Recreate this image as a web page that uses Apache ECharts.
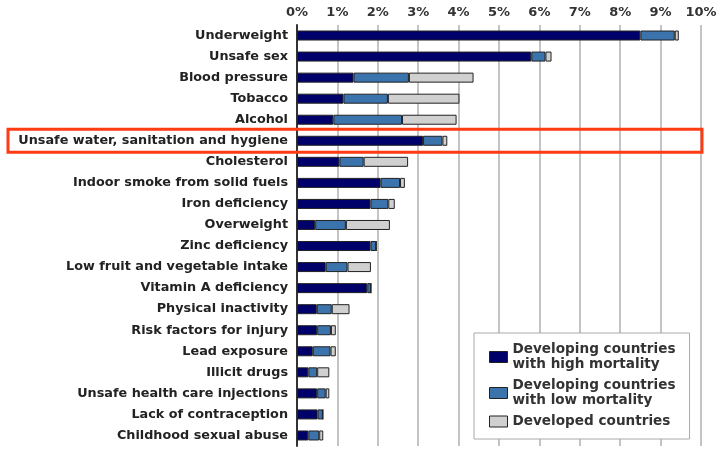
<!DOCTYPE html>
<html lang="en">
  <head>
    <meta charset="UTF-8" />
    <title>Risk factors</title>
    <script src="https://cdn.jsdelivr.net/npm/echarts@6.0.0/dist/echarts.min.js"></script>
    <style>
      body { margin: 0; background: #fff; }
    </style>
  </head>
  <body>
    <div id="chart" style="width: 720px; height: 449px"></div>

    <script type="text/javascript">
      // Data (% of total burden)
      const categories = [
        "Underweight", "Unsafe sex", "Blood pressure", "Tobacco", "Alcohol",
        "Unsafe water, sanitation and hygiene", "Cholesterol",
        "Indoor smoke from solid fuels", "Iron deficiency", "Overweight",
        "Zinc deficiency", "Low fruit and vegetable intake", "Vitamin A deficiency",
        "Physical inactivity", "Risk factors for injury", "Lead exposure",
        "Illicit drugs", "Unsafe health care injections", "Lack of contraception",
        "Childhood sexual abuse"
      ];
      const highMortality = [8.5, 5.8, 1.4, 1.15, 0.9, 3.12, 1.05, 2.07, 1.82, 0.45,
        1.82, 0.71, 1.74, 0.49, 0.5, 0.39, 0.28, 0.5, 0.51, 0.28];
      const lowMortality = [0.85, 0.35, 1.37, 1.1, 1.7, 0.48, 0.6, 0.48, 0.44, 0.76,
        0.14, 0.54, 0.09, 0.37, 0.34, 0.44, 0.22, 0.21, 0.13, 0.27];
      const developed = [0.1, 0.15, 1.6, 1.77, 1.35, 0.12, 1.1, 0.12, 0.16, 1.09,
        0.0, 0.58, 0.0, 0.44, 0.12, 0.13, 0.3, 0.09, 0.0, 0.1];
      const seriesNames = [
        "Developing countries\nwith high mortality",
        "Developing countries\nwith low mortality",
        "Developed countries"
      ];
      const colors = ["#00006b", "#3b73ac", "#d0d0d0"];
      const highlighted = "Unsafe water, sanitation and hygiene";

      let chart = echarts.init(document.getElementById("chart"));

      const font = "DejaVu Sans";
      const values = [highMortality, lowMortality, developed];

      const option = {
        animation: false,
        textStyle: { fontFamily: font },
        grid: { left: 297, right: 19, top: 25, bottom: 3 },
        xAxis: {
          type: "value",
          position: "top",
          min: 0,
          max: 10,
          interval: 1,
          axisLine: { show: false },
          axisTick: { show: false },
          axisLabel: {
            formatter: "{value}%",
            color: "#333",
            fontWeight: "bold",
            fontSize: 13,
            margin: 6
          },
          splitLine: { lineStyle: { color: "#c4c4c4", width: 2 } }
        },
        yAxis: {
          type: "category",
          inverse: true,
          data: categories,
          axisLine: { lineStyle: { color: "#333", width: 2 } },
          axisTick: { show: false },
          axisLabel: {
            color: "#222",
            fontWeight: "bold",
            fontSize: 12.8,
            margin: 9
          }
        },
        legend: {
          orient: "vertical",
          left: 474,
          top: 333,
          itemWidth: 18,
          itemHeight: 11,
          itemGap: 6,
          padding: [9, 14, 10, 15],
          backgroundColor: "#fff",
          borderColor: "#aaa",
          borderWidth: 1,
          icon: "rect",
          itemStyle: { borderColor: "#222", borderWidth: 1 },
          textStyle: {
            fontFamily: font,
            fontWeight: "bold",
            fontSize: 13.6,
            color: "#333",
            lineHeight: 15
          },
          data: seriesNames
        },
        series: seriesNames.map((name, i) => ({
          name: name,
          type: "bar",
          stack: "total",
          barWidth: 10,
          data: values[i],
          itemStyle: { color: colors[i], borderColor: "#222", borderWidth: 1 }
        }))
      };

      chart.setOption(option);

      // Red box around the highlighted row
      const y = chart.convertToPixel({ yAxisIndex: 0 }, highlighted);
      chart.setOption({
        graphic: [{
          type: "rect",
          shape: { x: 8, y: y - 11.5, width: 694, height: 23 },
          style: { fill: "none", stroke: "#ff3b14", lineWidth: 3 },
          z: 100
        }]
      });
    </script>
  </body>
</html>
